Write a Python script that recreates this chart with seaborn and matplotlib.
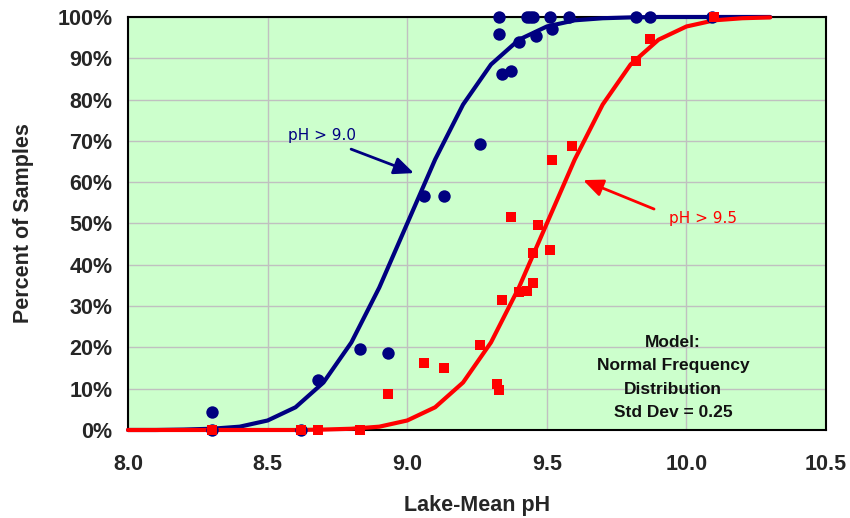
import numpy as np
import pandas as pd
import matplotlib
matplotlib.use("Agg")
import matplotlib.pyplot as plt
from matplotlib.ticker import PercentFormatter, MultipleLocator
import seaborn as sns

# ---- data ----
curve_ph = [8.0, 8.1, 8.2, 8.3, 8.4, 8.5, 8.6, 8.7, 8.8, 8.9, 9.0, 9.1,
            9.2, 9.3, 9.4, 9.5, 9.6, 9.7, 9.8, 9.9, 10.0, 10.1, 10.2, 10.3]
curve_gt90 = [0.0, 0.0, 0.1, 0.3, 0.8, 2.3, 5.5, 11.5, 21.2, 34.5, 50.0, 65.5,
              78.8, 88.5, 94.5, 97.7, 99.2, 99.7, 99.9, 100.0, 100.0, 100.0, 100.0, 100.0]
curve_gt95 = [0.0, 0.0, 0.0, 0.0, 0.0, 0.0, 0.0, 0.1, 0.3, 0.8, 2.3, 5.5,
              11.5, 21.2, 34.5, 50.0, 65.5, 78.8, 88.5, 94.5, 97.7, 99.2, 99.7, 99.9]

obs90_ph = [8.30, 8.30, 8.62, 8.68, 8.83, 8.93, 9.06, 9.13, 9.26, 9.33, 9.33,
            9.34, 9.37, 9.40, 9.43, 9.44, 9.45, 9.46, 9.51, 9.52, 9.58, 9.82, 9.87, 10.09]
obs90_pct = [4.4, 0.0, 0.0, 12.0, 19.6, 18.6, 56.7, 56.7, 69.2, 100.0, 95.9,
             86.2, 86.9, 93.9, 100.0, 100.0, 100.0, 95.4, 100.0, 97.0, 100.0, 100.0, 100.0, 100.0]

obs95_ph = [8.30, 8.62, 8.68, 8.83, 8.93, 9.06, 9.13, 9.26, 9.32, 9.33, 9.34,
            9.37, 9.40, 9.43, 9.45, 9.45, 9.47, 9.51, 9.52, 9.59, 9.82, 9.87, 10.10]
obs95_pct = [0.0, 0.0, 0.0, 0.0, 8.7, 16.2, 15.0, 20.6, 11.1, 9.7, 31.5,
             51.6, 33.4, 33.7, 35.6, 42.9, 49.6, 43.6, 65.4, 68.8, 89.4, 94.6, 100.0]

x_ticks = [8.0, 8.5, 9.0, 9.5, 10.0, 10.5]
model_text = "Model:\nNormal Frequency\nDistribution\nStd Dev = 0.25"

NAVY = "#000080"
RED = "#FF0000"

sns.set_style("white")
plt.rcParams["font.family"] = ["Liberation Sans", "DejaVu Sans"]

fig = plt.figure(figsize=(8.5, 5.18), dpi=100)
ax = fig.add_axes([0.1506, 0.1699, 0.8212, 0.7973])
ax.set_facecolor("#CCFFCC")

curves = pd.DataFrame({"ph": curve_ph, "gt90": curve_gt90, "gt95": curve_gt95})
sns.lineplot(data=curves, x="ph", y="gt90", ax=ax, color=NAVY, lw=3.0,
             clip_on=False, zorder=3, estimator=None, sort=False)
sns.lineplot(data=curves, x="ph", y="gt95", ax=ax, color=RED, lw=3.0,
             clip_on=False, zorder=3.5, estimator=None, sort=False)

o90 = pd.DataFrame({"ph": obs90_ph, "pct": obs90_pct})
o95 = pd.DataFrame({"ph": obs95_ph, "pct": obs95_pct})
sns.scatterplot(data=o90, x="ph", y="pct", ax=ax, color=NAVY, marker="o",
                s=80, linewidth=0, clip_on=False, zorder=4)
sns.scatterplot(data=o95, x="ph", y="pct", ax=ax, color=RED, marker="s",
                s=55, linewidth=0, clip_on=False, zorder=5)

ax.set_xlim(8.0, 10.5)
ax.set_ylim(0, 100)
ax.set_xticks(x_ticks)
ax.set_xticklabels([f"{v:.1f}" for v in x_ticks])
ax.yaxis.set_major_locator(MultipleLocator(10))
ax.yaxis.set_major_formatter(PercentFormatter(decimals=0))

ax.grid(True, color="#C0C0C0", lw=1.0)
ax.set_axisbelow(True)
for sp in ax.spines.values():
    sp.set_visible(True)
    sp.set_color("black")
    sp.set_linewidth(1.5)

ax.tick_params(axis="both", which="major", direction="out", length=5,
               width=1.2, color="#333333", labelsize=15.5)
ax.tick_params(axis="x", pad=12)
ax.tick_params(axis="y", pad=6)
for lab in ax.get_xticklabels() + ax.get_yticklabels():
    lab.set_fontweight("bold")

ax.set_xlabel("Lake-Mean pH", fontsize=15.5, fontweight="bold", labelpad=15)
ax.set_ylabel("Percent of Samples", fontsize=15.5, fontweight="bold", labelpad=17)

arrow_style = "-|>,head_length=0.8,head_width=0.35"
ax.annotate("", xy=(9.024, 62.2), xytext=(8.799, 68.0),
            arrowprops=dict(arrowstyle=arrow_style, color=NAVY, lw=2.0,
                            mutation_scale=15, shrinkA=0, shrinkB=0), zorder=6)
ax.text(8.695, 71.2, "pH > 9.0", color=NAVY, fontsize=11,
        family="DejaVu Sans", ha="center", va="center", zorder=6)

ax.annotate("", xy=(9.630, 60.5), xytext=(9.884, 53.5),
            arrowprops=dict(arrowstyle=arrow_style, color=RED, lw=2.0,
                            mutation_scale=15, shrinkA=0, shrinkB=0), zorder=6)
ax.text(10.061, 51.3, "pH > 9.5", color=RED, fontsize=11,
        family="DejaVu Sans", ha="center", va="center", zorder=6)

ax.text(9.952, 12.7, model_text, color="#111111", fontsize=12.5,
        fontweight="bold", ha="center", va="center", multialignment="center",
        linespacing=1.7, zorder=6)

fig.savefig("out.png", dpi=100)
